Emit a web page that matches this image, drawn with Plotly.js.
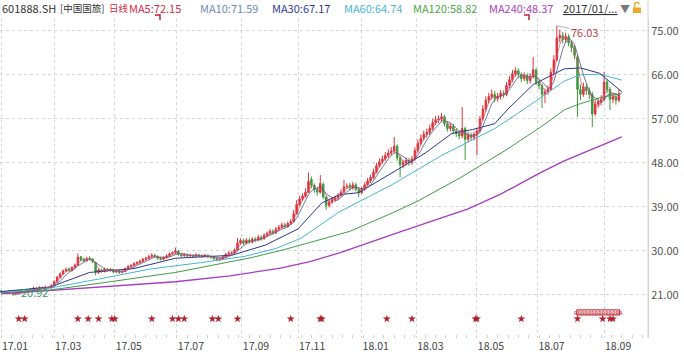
<!DOCTYPE html>
<html><head><meta charset="utf-8">
<script src="https://cdn.plot.ly/plotly-3.0.1.min.js"></script>
<style>html,body{margin:0;padding:0;background:#fff}#chart{width:684px;height:355px}</style>
</head><body><div id="chart"></div>
<script>
// ---- data (2-trading-day candles) ----
const openP = [21.8,21.6,21.5,21.4,21.3,21.1,21.4,21.5,21.7,21.6,
21.9,22.2,22.4,22.3,22.5,22.3,22.6,22.5,22.9,23.7,
24.6,25.3,25.9,26.3,26.0,26.6,27.1,28.8,28.3,28.0,
28.5,28.3,27.6,25.6,26.1,25.8,26.3,26.0,26.2,25.7,
25.9,25.6,25.8,26.4,26.8,27.0,27.4,27.6,27.9,28.3,
28.5,28.8,29.1,28.9,28.5,28.3,28.6,29.0,29.4,29.6,
30.0,29.3,29.0,29.2,29.0,29.1,28.9,29.2,29.0,28.9,
29.1,28.8,28.7,28.4,28.2,28.3,28.8,29.3,29.5,29.6,
30.2,31.6,32.1,31.6,32.2,31.8,32.4,32.2,32.8,32.5,
33.2,33.6,34.0,33.7,34.5,34.8,35.3,35.0,35.6,36.0,
37.6,39.5,40.6,41.2,42.0,44.6,43.4,42.5,42.0,43.6,
41.0,39.3,40.0,40.5,40.8,41.3,42.0,43.1,43.4,42.9,
43.5,42.6,41.9,42.6,43.5,44.3,45.0,46.1,47.4,48.2,
48.8,49.5,50.0,50.4,51.4,49.0,47.6,48.0,48.5,48.1,
48.8,50.5,52.0,53.0,53.8,54.2,55.0,56.2,56.8,57.0,
57.4,56.0,55.0,55.5,54.5,54.0,53.5,55.0,52.8,53.6,
53.2,53.8,54.5,57.0,59.0,60.8,61.5,62.0,61.2,61.6,
62.2,62.0,63.8,65.0,66.2,66.8,66.0,65.2,65.8,64.8,
65.6,67.0,64.5,63.8,62.0,62.5,63.0,66.5,69.0,73.5,
74.0,73.2,73.8,72.5,71.5,69.5,63.0,62.0,63.5,62.8,
62.0,58.0,60.0,60.5,61.0,64.5,63.0,61.0,61.5,60.8];
const closeP = [21.6,21.5,21.4,21.3,21.1,21.4,21.5,21.7,21.6,21.9,
22.2,22.4,22.3,22.5,22.3,22.6,22.5,22.9,23.7,24.6,
25.3,25.9,26.2,26.0,26.6,27.1,28.7,28.2,28.0,28.4,
28.3,27.8,25.6,26.1,25.8,26.3,26.0,26.2,25.7,25.9,
25.6,25.8,26.4,26.8,27.0,27.4,27.6,27.9,28.3,28.5,
28.8,29.1,28.9,28.5,28.3,28.6,29.0,29.4,29.6,30.0,
29.3,29.0,29.2,29.0,29.1,28.9,29.2,29.0,28.9,29.1,
28.8,28.7,28.4,28.2,28.3,28.8,29.3,29.5,29.6,30.2,
31.6,32.1,31.6,32.2,31.8,32.4,32.2,32.8,32.5,33.2,
33.6,34.0,33.7,34.5,34.8,35.3,35.0,35.6,36.0,37.6,
39.5,40.6,41.2,42.0,44.2,43.4,42.5,42.0,43.8,41.0,
39.3,40.0,40.5,40.8,41.3,42.0,43.1,43.2,42.9,43.5,
42.6,41.9,42.6,43.5,44.3,45.0,46.1,47.4,48.2,48.8,
49.5,50.0,50.4,51.4,49.0,47.6,48.0,48.5,48.1,48.8,
50.5,52.0,53.0,53.8,54.2,55.0,56.2,56.8,57.0,57.4,
56.0,55.0,55.5,54.5,54.0,53.5,55.0,52.8,53.6,53.2,
53.8,54.5,57.0,59.0,60.8,61.5,62.0,61.2,61.6,62.2,
62.0,63.8,65.0,66.2,66.8,66.0,65.2,65.8,64.8,65.6,
67.0,64.5,63.8,62.0,62.5,63.0,66.5,69.0,73.5,74.0,
73.2,73.8,72.5,71.5,70.0,63.0,62.0,63.5,62.8,62.0,
58.0,60.0,60.5,61.0,64.5,63.0,61.0,61.5,60.8,62.0];
const highP = [22.0,21.8,21.7,21.6,21.5,21.6,21.7,21.9,21.9,22.1,
22.4,22.7,22.6,22.8,22.7,22.9,22.8,23.2,24.0,24.9,
25.6,26.2,26.6,26.6,26.9,27.4,29.5,29.0,28.6,28.8,
28.9,28.5,27.8,26.4,26.4,26.6,26.5,26.5,26.4,26.2,
26.1,26.0,26.6,27.1,27.3,27.7,27.9,28.2,28.6,28.8,
29.2,29.5,29.4,29.1,28.8,28.9,29.3,29.7,29.9,30.7,
30.2,29.5,29.5,29.4,29.4,29.3,29.5,29.4,29.3,29.4,
29.3,29.1,28.9,28.6,28.6,29.1,29.6,29.9,29.9,30.5,
32.6,32.6,32.5,32.6,32.6,32.8,32.8,33.3,33.2,33.6,
34.0,34.5,34.4,34.9,35.3,35.8,35.7,36.0,36.5,38.4,
40.4,41.3,41.8,42.8,46.0,45.2,43.8,43.0,45.5,44.0,
41.3,40.5,41.0,41.3,41.8,42.6,44.5,43.8,43.9,44.1,
43.9,42.9,43.1,44.0,44.9,45.6,46.8,48.0,48.9,49.5,
50.2,50.8,51.2,53.3,51.8,49.4,48.6,49.1,49.0,49.4,
51.2,52.8,53.8,54.6,55.0,55.8,57.0,57.6,57.7,58.2,
57.8,56.5,56.1,56.0,55.0,54.6,59.4,55.4,54.3,54.2,
54.4,55.0,57.6,59.8,61.6,62.3,63.0,62.7,62.3,62.9,
62.8,64.5,65.8,67.0,67.5,67.3,66.5,66.5,66.3,66.3,
69.6,67.4,65.0,64.2,63.2,63.8,67.3,70.0,76.03,75.2,
74.8,74.6,74.3,73.0,72.0,70.0,64.0,64.4,64.2,63.4,
62.5,60.8,61.3,61.8,66.6,65.1,63.5,62.3,62.1,63.0];
const lowP = [21.4,21.3,21.2,21.1,20.92,21.0,21.2,21.3,21.4,21.5,
21.8,22.0,22.1,22.1,22.1,22.1,22.3,22.3,22.8,23.5,
24.4,25.1,25.7,25.7,25.8,26.4,27.0,27.9,27.7,27.8,
28.0,27.5,25.0,25.3,25.5,25.6,25.8,25.8,25.4,25.4,
25.3,25.4,25.6,26.2,26.6,26.8,27.2,27.4,27.7,28.1,
28.3,28.6,28.6,28.2,28.0,28.1,28.4,28.8,29.2,29.4,
29.0,28.7,28.8,28.7,28.8,28.6,28.7,28.8,28.6,28.7,
28.5,28.4,28.1,27.9,27.9,28.1,28.6,29.1,29.2,29.4,
30.0,31.3,31.2,31.3,31.4,31.5,31.8,32.0,32.1,32.3,
32.9,33.3,33.3,33.4,34.1,34.5,34.6,34.7,35.3,35.8,
37.4,39.2,40.2,40.9,41.8,42.8,41.9,41.3,41.7,40.6,
38.4,38.9,39.6,40.0,40.4,41.0,41.8,42.6,42.4,42.5,
42.2,41.0,41.6,42.3,43.2,43.9,44.7,45.8,47.0,47.8,
48.4,49.0,49.5,50.0,48.4,45.0,46.9,47.4,47.4,47.6,
48.4,50.1,51.5,52.5,53.2,53.7,54.6,55.7,56.1,56.4,
55.4,54.4,54.4,53.9,53.3,52.8,53.0,48.6,52.2,52.5,
52.6,49.6,54.1,56.6,58.5,60.1,60.9,60.4,60.5,60.9,
61.3,61.6,63.3,64.5,65.6,65.3,64.5,64.7,64.1,64.2,
65.2,63.9,63.0,59.2,60.2,61.9,62.7,66.1,68.7,72.6,
72.4,72.5,71.8,70.6,69.2,57.4,60.8,61.5,61.9,61.0,
55.3,57.6,59.3,59.8,60.6,62.2,58.8,60.2,59.9,60.4];

// long moving averages (trading-day index, value)
const ma30Day  = [0,33,60,90,118,156,179,201,217,229,242,265,287,305,319,334,343,360,381,392,405,420];
const ma30Val  = [21.7,22.6,25.6,26.4,28.5,29.1,31.2,34.5,39.8,41.5,41.9,46.0,50.0,54.0,54.8,56.0,59.0,64.0,67.2,67.4,66.3,62.5];
const ma60Day  = [0,33,67,101,135,165,186,203,229,265,298,321,334,355,381,392,405,420];
const ma60Val  = [21.6,22.4,24.3,26.3,27.6,28.9,30.5,32.6,38.0,43.6,49.5,53.0,55.0,59.2,64.7,66.0,66.1,64.9];
const ma120Day = [0,33,67,118,169,192,236,265,282,311,341,365,381,390,405,420];
const ma120Val = [21.5,22.0,23.4,25.6,28.6,30.3,34.0,37.8,40.2,45.0,50.5,55.3,58.8,59.9,61.3,62.2];
const ma240Day = [0,40,80,118,155,189,209,229,270,316,338,365,381,420];
const ma240Val = [21.2,22.0,22.9,23.7,24.9,26.5,27.8,29.6,33.9,38.6,41.6,46.0,48.4,53.3];

const starDay = [12,16,52,59,66,75,77,102,116,120,124,143,147,160,196,216,217,261,278,321,322,352,390,407,412,414];

const tickDay   = [0,36,77,119,163,201,244,281,322,363,408];
const tickLabel = ['17.01','17.03','17.05','17.07','17.09','17.11','18.01','18.03','18.05','18.07','18.09'];
const yTicks = [21,30,39,48,57,66,75];

// ---- derived ----
const candleDay = closeP.map((_, k) => 2 * k);
function sma(vals, n) {
  return vals.map((v, i) => i < n - 1 ? null : vals.slice(i - n + 1, i + 1).reduce((a, b) => a + b, 0) / n);
}
const ma5 = sma(closeP, 3), ma10 = sma(closeP, 5);

const STAR_LEVEL = 16.1;
const PW = 648, PH = 320, MT = 18;
const px = x => x / PW;
const py = y => 1 - (y - MT) / PH;

const lineT = (x, y, color, w) => ({type: 'scatter', mode: 'lines', x, y, line: {color, width: w}, hoverinfo: 'skip', connectgaps: false});

const traces = [
  lineT(ma240Day, ma240Val, '#a93ac4', 1.3),
  lineT(ma120Day, ma120Val, '#3f9d45', 1),
  lineT(ma60Day, ma60Val, '#45b6d2', 1),
  lineT(ma30Day, ma30Val, '#2a3592', 1),
  {type: 'candlestick', x: candleDay, open: openP, high: highP, low: lowP, close: closeP,
   increasing: {line: {color: '#e0333a', width: 1}, fillcolor: '#e0333a'},
   decreasing: {line: {color: '#3f9a3f', width: 1}, fillcolor: '#3f9a3f'},
   whiskerwidth: 0, hoverinfo: 'skip'},
  lineT(candleDay, ma10, '#4e5b80', 0.8),
  lineT(candleDay, ma5, '#d8506e', 0.7),
  {type: 'scatter', mode: 'markers', x: starDay, y: starDay.map(() => STAR_LEVEL),
   marker: {symbol: 'star', size: 6, color: '#b3202e'}, hoverinfo: 'skip'}
];

const FONT = 'Noto Sans CJK SC, Noto Sans, sans-serif';
const titleParts = [
  ['601888.SH', '#333', 0, 11], ['[中国国旅]', '#333', 58, 9.5], ['日线', '#d42a44', 107, 9.5],
  ['MA5:72.15', '#d42a48', 127, 11], ['MA10:71.59', '#6d8bad', 198, 11], ['MA30:67.17', '#2e3c9e', 270, 11],
  ['MA60:64.74', '#4ab4d4', 342, 11], ['MA120:58.82', '#4aa84a', 411, 11], ['MA240:48.37', '#b040c0', 487, 11],
  ['<u>2017/01/...</u>', '#333', 561, 11], ['▼', '#7a7a7a', 618, 10]
];
const annotations = titleParts.map(([t, c, x, s]) => ({
  xref: 'paper', yref: 'paper', x: px(x), y: py(8), xanchor: 'left', yanchor: 'middle',
  text: t, showarrow: false, font: {family: FONT, size: s, color: c}
}));
annotations.push({x: 8, y: 20.92, xref: 'x', yref: 'y', text: '20.92', showarrow: true, arrowhead: 0,
  arrowwidth: 0.8, arrowcolor: '#8fb0b0', ax: 22, ay: -3, font: {family: FONT, size: 11, color: '#3a9a6a'}});
annotations.push({x: 376, y: 76.03, xref: 'x', yref: 'y', text: '76.03', showarrow: true, arrowhead: 0,
  arrowwidth: 0.8, arrowcolor: '#8aa0c0', ax: 28, ay: 6, font: {family: FONT, size: 11, color: '#c0404a'}});
annotations.push({x: 404, y: 17.4, xref: 'x', yref: 'y', text: 'RRRRRRRRRRRRRR', showarrow: false,
  font: {family: 'DejaVu Sans', size: 5, color: '#c02030'}});

const shapes = [
  {type: 'rect', xref: 'x', yref: 'y', x0: 389.5, x1: 418.5, y0: 16.9, y1: 17.95,
   line: {color: '#c02030', width: 1}, fillcolor: 'rgba(240,190,190,0.5)', layer: 'below'},
  {type: 'path', xref: 'paper', yref: 'paper', path: `M ${px(155)},${py(15)} H ${px(160)} V ${py(20)}`, line: {color: '#c8202e', width: 1.5}},
  {type: 'path', xref: 'paper', yref: 'paper', path: `M ${px(524)},${py(15)} H ${px(529)} V ${py(20)}`, line: {color: '#c8202e', width: 1.5}},
  {type: 'line', xref: 'paper', yref: 'paper', x0: 1, x1: 1, y0: 0, y1: py(0), line: {color: '#d4d4d4', width: 1}},
  {type: 'rect', xref: 'paper', yref: 'paper', x0: px(633), x1: px(641), y0: py(13), y1: py(7.5), fillcolor: '#f0a828', line: {width: 0}},
  {type: 'path', xref: 'paper', yref: 'paper', path: `M ${px(634.5)},${py(7.5)} L ${px(634.5)},${py(4)} L ${px(636)},${py(2.5)} L ${px(638)},${py(2.5)} L ${px(639.5)},${py(4)}`, line: {color: '#f0a828', width: 1.3}}
];

const layout = {
  width: 684, height: 355,
  margin: {l: 0, r: 36, t: 18, b: 17, pad: 0},
  paper_bgcolor: '#fff', plot_bgcolor: '#fff',
  showlegend: false,
  font: {family: FONT, size: 11, color: '#444'},
  xaxis: {
    range: [-0.68, 437.7], rangeslider: {visible: false}, fixedrange: true,
    tickmode: 'array', tickvals: tickDay, ticktext: tickLabel, ticklabelshift: 14,
    showgrid: true, gridcolor: '#d6d6d6', griddash: 'dot', gridwidth: 1,
    ticks: '', ticklen: 0,
    minor: {tickmode: 'linear', tick0: 0, dtick: 7, ticks: 'inside', ticklen: 3, tickcolor: '#d0d0d0', showgrid: false},
    zeroline: false, showline: false,
    tickfont: {family: FONT, size: 10.5, color: '#444'}
  },
  yaxis: {
    side: 'right', range: [12.2, 77.6], fixedrange: true,
    tickmode: 'array', tickvals: yTicks, tickformat: '.2f',
    showgrid: true, gridcolor: '#d6d6d6', griddash: 'dot', gridwidth: 1,
    ticks: '', zeroline: false, showline: true, linecolor: '#d4d4d4',
    tickfont: {family: FONT, size: 11, color: '#555'}
  },
  annotations, shapes
};

Plotly.newPlot('chart', traces, layout, {staticPlot: true, displayModeBar: false});
</script>
</body></html>
